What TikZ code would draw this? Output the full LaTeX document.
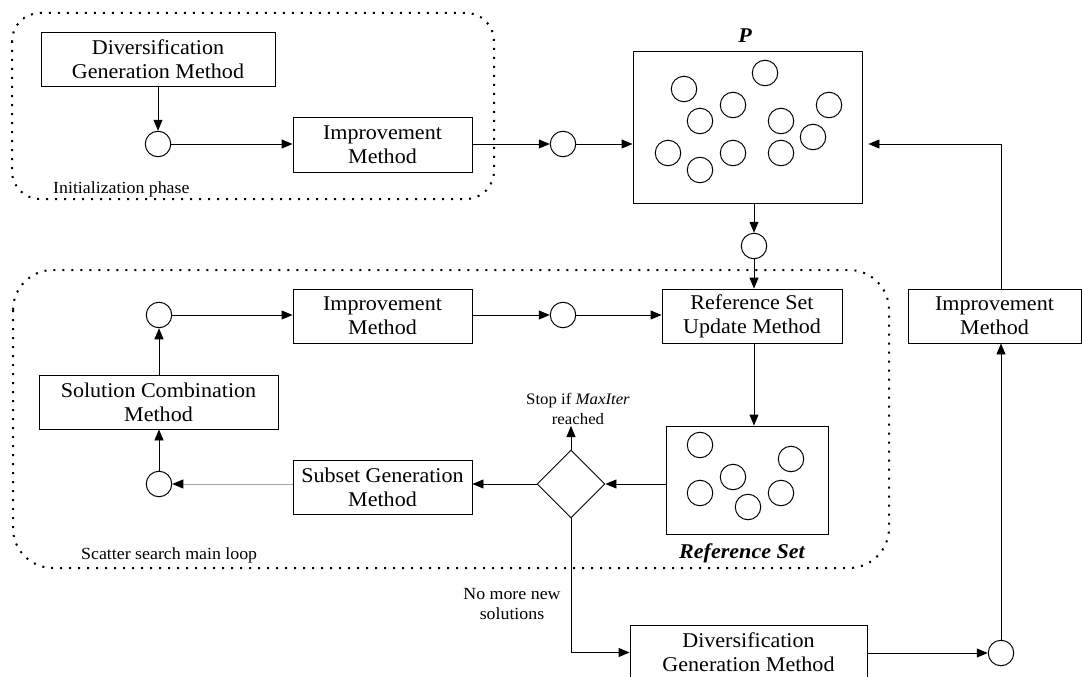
\documentclass[tikz,border=0pt]{standalone}
\usepackage{fontspec}
\setmainfont{Liberation Serif}[FakeStretch=1.05]
\usetikzlibrary{arrows.meta,shapes.geometric}
\begin{document}
\begin{tikzpicture}[x=1pt,y=-1pt,
  box/.style={draw, line width=0.9pt, inner sep=2pt, align=center,
    font=\fontsize{21}{24}\selectfont},
  sol/.style={draw, circle, line width=1pt, minimum size=25.5pt, inner sep=0pt},
  arr/.style={-{Triangle[length=11pt,width=9pt]}, line width=0.9pt},
  dotline/.style={line width=2pt, dash pattern=on 2pt off 7pt},
  lbl/.style={font=\fontsize{17}{20}\selectfont, align=center, inner sep=1pt},
  ttl/.style={font=\fontsize{21}{24}\selectfont\bfseries\itshape, inner sep=0pt}
]
\useasboundingbox (0,0) rectangle (1082,677);

% phase outlines
\draw[dotline, rounded corners=28pt] (12,13) rectangle (494,199);
\draw[dotline, rounded corners=40pt] (13,270) rectangle (889,568);
\node[lbl, anchor=base west] (initlbl) at (52,193) {Initialization phase};
\node[lbl, anchor=base west] (looplbl) at (80,559) {Scatter search main loop};

% boxes
\node[box, minimum width=234pt, minimum height=54pt] (dgm1) at (158,59) {Diversification\\Generation Method};
\node[box, minimum width=179pt, minimum height=55pt] (imp1) at (382.5,144.5) {Improvement\\Method};
\node[draw, line width=0.9pt, minimum width=229pt, minimum height=152pt, inner sep=0pt] (P) at (747.5,127) {};
\node[ttl, anchor=base] (Plbl) at (745,43) {P};
\node[box, minimum width=180pt, minimum height=54pt] (rsu) at (752,316) {Reference Set\\Update Method};
\node[box, minimum width=179pt, minimum height=54pt] (imp2) at (382.5,316) {Improvement\\Method};
\node[box, minimum width=173pt, minimum height=54pt] (impr) at (994.5,316) {Improvement\\Method};
\node[box, minimum width=239pt, minimum height=54pt] (scm) at (158.5,402) {Solution Combination\\Method};
\node[box, minimum width=179pt, minimum height=54pt] (sgm) at (382.5,487) {Subset Generation\\Method};
\node[draw, line width=0.9pt, minimum width=162pt, minimum height=108pt, inner sep=0pt] (refset) at (747,480) {};
\node[ttl, anchor=base] (rslbl) at (742,558) {Reference Set};
\node[box, minimum width=237pt, minimum height=55pt] (dgm2) at (748.5,652.5) {Diversification\\Generation Method};
\node[draw, diamond, aspect=1, line width=0.9pt, minimum width=68pt, minimum height=68pt, inner sep=0pt] (dia) at (571,484) {};

% flow circles
\node[sol] (c1) at (158,144) {};
\node[sol] (c2) at (563,144) {};
\node[sol] (c3) at (754,246) {};
\node[sol] (c4) at (563,315) {};
\node[sol] (c5) at (159,315) {};
\node[sol] (c6) at (159,484) {};
\node[sol] (c7) at (1001,653) {};

% population circles
\foreach \i/\p in {1/{(684,89)},2/{(765,73)},3/{(733,105)},4/{(700,121)},5/{(829,105)},6/{(781,121)},7/{(813,137)},8/{(668,153)},9/{(733,153)},10/{(781,153)},11/{(700,170)}}
  \node[sol] (p\i) at \p {};
% reference set circles
\foreach \i/\p in {1/{(700,445)},2/{(791,459)},3/{(733,477)},4/{(700,493)},5/{(781,493)},6/{(748,507)}}
  \node[sol] (r\i) at \p {};

% labels near decision
\node[lbl, anchor=south, font=\fontsize{16}{20}\selectfont] (stop) at (578,426) {Stop if \textit{MaxIter}\\reached};
\node[lbl] (nomore) at (512,604) {No more new\\solutions};

% connectors
\draw[arr] (dgm1.south -| c1) -- (c1);
\draw[arr] (c1) -- (imp1.west |- c1);
\draw[arr] (imp1.east |- c2) -- (c2);
\draw[arr] (c2) -- (P.west |- c2);
\draw[arr] (P.south -| c3) -- (c3);
\draw[arr] (c3) -- (c3 |- rsu.north);
\draw[arr] (c5) -- (imp2.west |- c5);
\draw[arr] (imp2.east |- c4) -- (c4);
\draw[arr] (c4) -- (rsu.west |- c4);
\draw[arr] (c3 |- rsu.south) -- (c3 |- refset.north);
\draw[arr] (refset.west |- dia) -- (dia.east);
\draw[arr] (dia.west) -- (sgm.east |- dia);
\draw[-{Triangle[length=11pt,width=9pt,black]}, line width=0.9pt, gray!70] (sgm.west |- c6) -- (c6);
\draw[arr] (c6) -- (c6 |- scm.south);
\draw[arr] (c5 |- scm.north) -- (c5);
\draw[arr] (dia.north) -- (dia.north |- stop.south);
\draw[arr] (dia.south) |- (dgm2.west);
\draw[arr] (dgm2.east |- c7) -- (c7);
\draw[arr] (c7) -- (c7 |- impr.south);
\draw[arr, shorten >=6pt] (c7 |- impr.north) |- (P.east |- c2);
\end{tikzpicture}
\end{document}
